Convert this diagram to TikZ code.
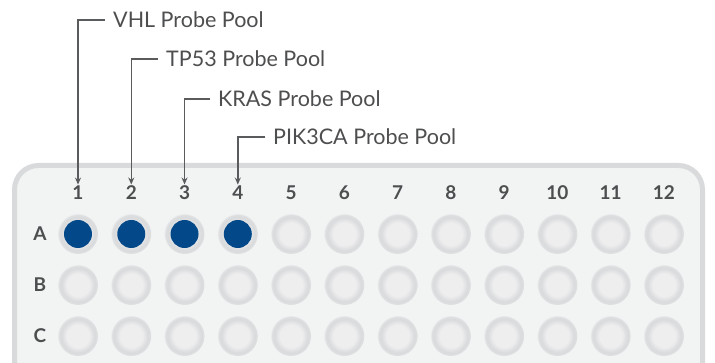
\documentclass[tikz,border=0pt]{standalone}
\usepackage{fontspec}
\setmainfont{Lato}
\usetikzlibrary{arrows.meta}
\definecolor{linegray}{HTML}{5A5B5D}
\definecolor{txtgray}{HTML}{4D4E50}
\definecolor{platefill}{HTML}{F2F3F3}
\definecolor{plateedge}{HTML}{D9DADB}
\definecolor{wellin}{HTML}{EEEEEF}
\definecolor{wellrim}{HTML}{D9DADC}
\definecolor{poolblue}{HTML}{03498A}
\pgfdeclareradialshading{wellshade}{\pgfpoint{0bp}{0bp}}{color(0bp)=(wellin); color(14bp)=(wellin); color(21bp)=(wellrim); color(24bp)=(wellrim!80!platefill); color(26bp)=(platefill); color(50bp)=(platefill)}
\tikzset{
  well/.style={circle,minimum size=40pt,inner sep=0pt,shading=wellshade},
  filled/.style={circle,minimum size=28pt,inner sep=0pt,fill=poolblue},
  colnum/.style={font=\bfseries\fontsize{19}{19}\selectfont,text=txtgray},
  rowlbl/.style={font=\bfseries\fontsize{19}{19}\selectfont,text=txtgray},
  pool/.style={font=\fontsize{21.5}{21.5}\selectfont,text=txtgray,anchor=west,inner sep=0pt},
  lead/.style={draw=linegray,line width=1.5pt,-{Stealth[length=7pt,width=6pt]}}
}
\begin{document}
\begin{tikzpicture}[x=1pt,y=-1pt]
\useasboundingbox (0,0) rectangle (715,363);
% plate
\draw[draw=plateedge,fill=platefill,line width=5pt,rounded corners=24pt]
  (14.5,165.5) rectangle (702.5,400);
% column numbers and wells
\foreach \c in {1,...,12} {
  \node[colnum] (c\c) at ({78+53.27*(\c-1)},193) {\c};
  \foreach \r/\y in {A/234,B/285,C/336}
    \node[well] (w\r\c) at ({78+53.27*(\c-1)},\y) {};
}
\foreach \r/\y in {A/234,B/285,C/336}
  \node[rowlbl] (r\r) at (40,\y) {\r};
% filled wells
\foreach \c in {1,...,4}
  \node[filled] at (wA\c) {};
% probe pools
\node[pool] (vhl) at (113,20) {VHL Probe Pool};
\node[pool] (tp) at (166,59) {TP53 Probe Pool};
\node[pool] (kras) at (218,99) {KRAS Probe Pool};
\node[pool] (pik) at (273,137) {PIK3CA Probe Pool};
\draw[lead] ([xshift=-8pt]vhl.west) -| ([yshift=-2pt]c1.north);
\draw[lead] ([xshift=-8pt]tp.west) -| ([yshift=-2pt]c2.north);
\draw[lead] ([xshift=-8pt]kras.west) -| ([yshift=-2pt]c3.north);
\draw[lead] ([xshift=-8pt]pik.west) -| ([yshift=-2pt]c4.north);
\end{tikzpicture}
\end{document}
